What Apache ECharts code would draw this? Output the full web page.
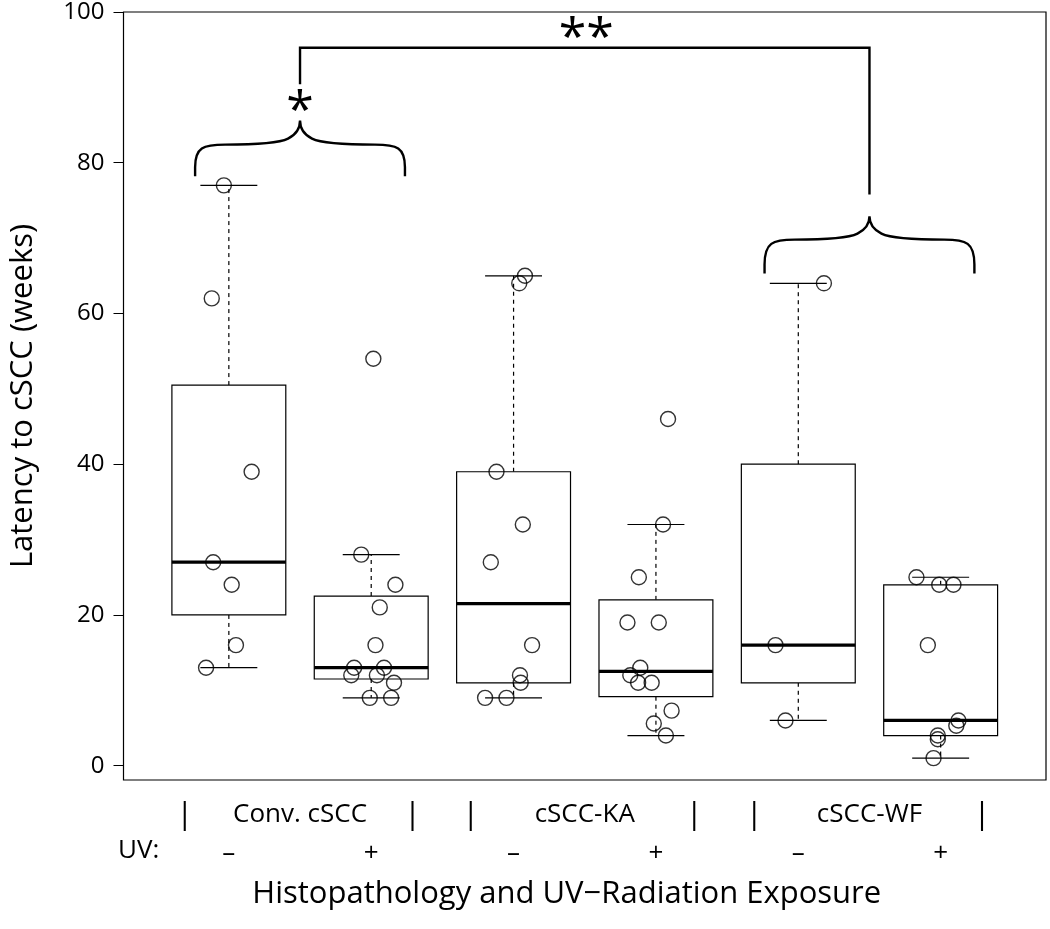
<!DOCTYPE html>
<html><head><meta charset="utf-8">
<script src="https://cdn.jsdelivr.net/npm/echarts@6/dist/echarts.min.js"></script>
<style>html,body{margin:0;padding:0;background:#fff}#c{width:1050px;height:929px}</style>
</head><body><div id="c"></div>
<script>
// ---- data ----
const groups = ['Conv. cSCC', 'cSCC-KA', 'cSCC-WF'];
const groupPos = [1.5, 3.5, 5.5];
const separatorPos = [0.69, 2.29, 2.70, 4.27, 4.69, 6.29];
const uvLabels = ['\u2013', '+', '\u2013', '+', '\u2013', '+'];
const uvPos = [1, 2, 3, 4, 5, 6];
const yTicks = [0, 20, 40, 60, 80, 100];
// [position, lower whisker, Q1, median, Q3, upper whisker]
const boxStats = [
  [1, 13, 20, 27, 50.5, 77],
  [2, 9, 11.5, 13, 22.5, 28],
  [3, 9, 11, 21.5, 39, 65],
  [4, 4, 9.15, 12.5, 22, 32],
  [5, 6, 11, 16, 40, 64],
  [6, 1, 4, 6, 24, 25]
];
// jittered observations [x, weeks]
const convMinus = [[0.965, 77], [0.88, 62], [1.16, 39], [0.89, 27], [1.02, 24], [1.05, 16], [0.84, 13]];
const convPlus = [[2.015, 54], [1.93, 28], [2.17, 24], [2.06, 21], [2.03, 16], [1.88, 13], [2.09, 13], [1.86, 12], [2.04, 12], [2.16, 11], [1.99, 9], [2.14, 9]];
const kaMinus = [[3.08, 65], [3.04, 64], [2.88, 39], [3.065, 32], [2.84, 27], [3.13, 16], [3.045, 12], [3.05, 11], [2.80, 9], [2.95, 9]];
const kaPlus = [[4.085, 46], [4.05, 32], [3.88, 25], [3.80, 19], [4.02, 19], [3.89, 13], [3.82, 12], [3.875, 11], [3.97, 11], [4.11, 7.3], [3.985, 5.6], [4.07, 4]];
const wfMinus = [[5.18, 64], [4.84, 16], [4.91, 6]];
const wfPlus = [[5.83, 25], [5.99, 24], [6.09, 24], [5.91, 16], [6.125, 6], [6.11, 5.3], [5.98, 4], [5.98, 3.5], [5.95, 1]];

// ---- chart ----
const FONT = "'Open Sans', 'Noto Sans', sans-serif";
const chart = echarts.init(document.getElementById('c'), null, {renderer: 'canvas'});
const allPoints = [].concat(convMinus, convPlus, kaMinus, kaPlus, wfMinus, wfPlus);

const baseX = {type: 'value', min: 0.26, max: 6.74, gridIndex: 0, position: 'bottom',
  axisLine: {show: false}, axisTick: {show: false}, splitLine: {show: false}};

// annotation layout (data coordinates)
const braces = [
  {c: 1.5, half: 0.737, yEnd: 78.2, yFlat: 82.4, yTip: 85.6},
  {c: 5.5, half: 0.737, yEnd: 65.3, yFlat: 69.8, yTip: 72.9}
];

function bracePath(api, b) {
  const p0 = api.coord([b.c - b.half, b.yEnd]);
  const p1 = api.coord([b.c + b.half, b.yEnd]);
  const pc = api.coord([b.c, b.yTip]);
  const yF = api.coord([b.c, b.yFlat])[1];
  const x0 = p0[0], x1 = p1[0], xc = pc[0], yE = p0[1], yT = pc[1];
  return 'M' + x0 + ' ' + yE + ' L' + x0 + ' ' + (yE - 9) +
    ' C' + x0 + ' ' + (yF + 3) + ' ' + (x0 + 8) + ' ' + yF + ' ' + (x0 + 30) + ' ' + yF +
    ' C' + (xc - 50) + ' ' + yF + ' ' + (xc - 22) + ' ' + (yF - 1) + ' ' + (xc - 12) + ' ' + (yF - 6) +
    ' C' + (xc - 4) + ' ' + (yF - 10) + ' ' + xc + ' ' + (yT + 8) + ' ' + xc + ' ' + yT +
    ' C' + xc + ' ' + (yT + 8) + ' ' + (xc + 4) + ' ' + (yF - 10) + ' ' + (xc + 12) + ' ' + (yF - 6) +
    ' C' + (xc + 22) + ' ' + (yF - 1) + ' ' + (xc + 50) + ' ' + yF + ' ' + (x1 - 30) + ' ' + yF +
    ' C' + (x1 - 8) + ' ' + yF + ' ' + x1 + ' ' + (yF + 3) + ' ' + x1 + ' ' + (yE - 9) +
    ' L' + x1 + ' ' + yE;
}

const option = {
  animation: false,
  backgroundColor: '#fff',
  grid: {left: 117, right: 4, top: 10, bottom: 149, show: true, borderColor: '#000', borderWidth: 1.2, backgroundColor: 'transparent'},
  xAxis: [
    Object.assign({}, baseX, {
      axisLabel: {customValues: uvPos, formatter: v => uvLabels[Math.round(v) - 1], margin: 74,
        verticalAlign: 'middle', fontSize: 26, color: '#000', fontFamily: FONT},
      name: 'Histopathology and UV\u2212Radiation Exposure', nameLocation: 'middle', nameGap: 114,
      nameTextStyle: {fontSize: 31, color: '#000', fontFamily: FONT, verticalAlign: 'middle', padding: [0, 36, 0, 0]}
    }),
    Object.assign({}, baseX, {
      axisLabel: {customValues: groupPos, formatter: v => groups[Math.round((v - 1.5) / 2)], margin: 35,
        verticalAlign: 'middle', fontSize: 26, color: '#000', fontFamily: FONT}
    }),
    Object.assign({}, baseX, {
      axisLabel: {customValues: separatorPos, formatter: () => '|', margin: 35,
        verticalAlign: 'middle', fontSize: 31, color: '#000', fontFamily: FONT}
    })
  ],
  yAxis: {
    type: 'value', min: -1.9, max: 100,
    axisLine: {show: false}, splitLine: {show: false},
    axisTick: {show: true, customValues: yTicks, length: 10, lineStyle: {color: '#000', width: 1}},
    axisLabel: {customValues: yTicks, margin: 19, fontSize: 24, color: '#000', fontFamily: FONT},
    name: 'Latency to cSCC (weeks)', nameLocation: 'middle', nameGap: 100,
    nameTextStyle: {fontSize: 31, color: '#000', fontFamily: FONT, verticalAlign: 'middle'}
  },
  graphic: [{type: 'text', left: 118, top: 838, style: {text: 'UV:', font: '26px ' + FONT, fill: '#000'}}],
  series: [
    {
      type: 'custom', xAxisIndex: 0, data: boxStats, encode: {x: 0, y: [1, 2, 3, 4, 5]}, z: 2, silent: true,
      renderItem(params, api) {
        const x = api.value(0);
        const pLo = api.coord([x, api.value(1)]), pQ1 = api.coord([x, api.value(2)]),
          pMed = api.coord([x, api.value(3)]), pQ3 = api.coord([x, api.value(4)]), pHi = api.coord([x, api.value(5)]);
        const halfW = api.size([0.8, 0])[0] / 2, capW = halfW / 2, cx = pMed[0];
        const thin = {stroke: '#000', lineWidth: 1.2};
        const dash = {stroke: '#000', lineWidth: 1.2, lineDash: [4, 4]};
        return {type: 'group', children: [
          {type: 'line', shape: {x1: cx, y1: pQ3[1], x2: cx, y2: pHi[1]}, style: dash},
          {type: 'line', shape: {x1: cx, y1: pQ1[1], x2: cx, y2: pLo[1]}, style: dash},
          {type: 'line', shape: {x1: cx - capW, y1: pHi[1], x2: cx + capW, y2: pHi[1]}, style: thin},
          {type: 'line', shape: {x1: cx - capW, y1: pLo[1], x2: cx + capW, y2: pLo[1]}, style: thin},
          {type: 'rect', shape: {x: cx - halfW, y: pQ3[1], width: 2 * halfW, height: pQ1[1] - pQ3[1]}, style: {fill: '#fff', stroke: '#000', lineWidth: 1.2}},
          {type: 'line', shape: {x1: cx - halfW, y1: pMed[1], x2: cx + halfW, y2: pMed[1]}, style: {stroke: '#000', lineWidth: 3.2}}
        ]};
      }
    },
    {
      type: 'scatter', xAxisIndex: 0, data: allPoints, symbol: 'circle', symbolSize: 15, z: 3, silent: true,
      itemStyle: {color: 'rgba(0,0,0,0)', borderColor: '#000', borderWidth: 1.4}
    },
    {
      type: 'custom', xAxisIndex: 0, data: [[3.5, 50]], z: 4, silent: true, clip: false,
      renderItem(params, api) {
        const b1 = api.coord([1.5, 90.4]), b2 = api.coord([1.5, 95.25]), b3 = api.coord([5.5, 95.25]), b4 = api.coord([5.5, 75.8]);
        const s1 = api.coord([1.5, 86.6]), s2 = api.coord([3.51, 96.3]);
        const children = braces.map(b => ({type: 'path', shape: {pathData: bracePath(api, b)}, style: {fill: 'none', stroke: '#000', lineWidth: 2.4}}));
        children.push({type: 'polyline', shape: {points: [b1, b2, b3, b4]}, style: {fill: 'none', stroke: '#000', lineWidth: 2.4}});
        children.push({type: 'text', x: s1[0], y: s1[1], style: {text: '*', font: '50px ' + FONT, fill: '#000', align: 'center', verticalAlign: 'middle'}});
        children.push({type: 'text', x: s2[0], y: s2[1], style: {text: '**', font: '50px ' + FONT, fill: '#000', align: 'center', verticalAlign: 'middle'}});
        return {type: 'group', children};
      }
    }
  ]
};
chart.setOption(option);
</script></body></html>
